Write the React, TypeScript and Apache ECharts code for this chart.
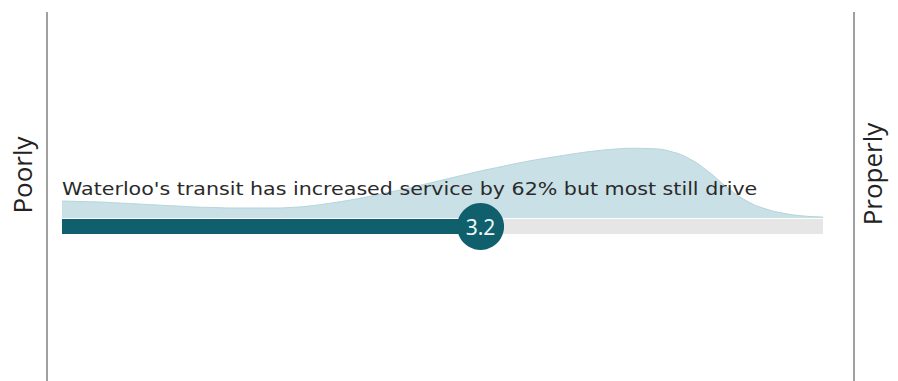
import { useEffect, useRef } from "react";
import * as echarts from "echarts";

// Rating scale (1 = poorly, 5 = properly)
const scaleMin = 1;
const scaleMax = 5;

// Distribution of responses along the rating scale
const densityScore = [
  1.0, 1.1, 1.2, 1.3, 1.4, 1.5, 1.6, 1.7, 1.8, 1.9,
  2.0, 2.1, 2.2, 2.3, 2.4, 2.5, 2.6, 2.7, 2.8, 2.9,
  3.0, 3.1, 3.2, 3.3, 3.4, 3.5, 3.6, 3.7, 3.8, 3.9,
  4.0, 4.1, 4.2, 4.3, 4.4, 4.5, 4.6, 4.7, 4.8, 4.9, 5.0,
];
const densityValue = [
  17, 16.5, 16, 15, 14, 13, 12, 11, 10.5, 10,
  10, 10, 10.5, 12, 14.5, 17.5, 21, 25, 29, 33.5,
  38, 42.5, 47, 51, 55, 58.5, 61.5, 64.5, 67, 68.8,
  69.7, 69.3, 66.5, 59, 46, 30, 17, 9, 4.5, 2, 1,
];

// Average rating
const averageScore = 3.2;
const trackCategory = ["score"];

const headline = "Waterloo's transit has increased service by 62% but most still drive";
const lowLabel = "Poorly";
const highLabel = "Properly";

const TEAL = "#0f5f6c";

export default function App() {
  const ref = useRef<HTMLDivElement>(null);

  useEffect(() => {
    if (!ref.current) return;
    const chart = echarts.init(ref.current, undefined, { renderer: "svg" });

    chart.setOption({
      animation: false,
      backgroundColor: "#ffffff",
      grid: [
        { left: 62, right: 75, top: 143, bottom: 163 },
        { left: 62, right: 75, top: 219, height: 15 },
      ],
      xAxis: [
        { gridIndex: 0, type: "value", min: scaleMin, max: scaleMax, show: false },
        { gridIndex: 1, type: "value", min: scaleMin, max: scaleMax, show: false },
      ],
      yAxis: [
        { gridIndex: 0, type: "value", min: 0, max: 75, show: false },
        { gridIndex: 1, type: "category", data: trackCategory, show: false },
      ],
      series: [
        {
          type: "line",
          xAxisIndex: 0,
          yAxisIndex: 0,
          data: densityScore.map((s, i) => [s, densityValue[i]]),
          smooth: 0.5,
          symbol: "none",
          lineStyle: { color: "#b3d3db", width: 1 },
          areaStyle: { color: "#c9e0e6", opacity: 1 },
          silent: true,
        },
        {
          type: "bar",
          xAxisIndex: 1,
          yAxisIndex: 1,
          data: [scaleMax],
          barWidth: 15,
          barGap: "-100%",
          clip: true,
          itemStyle: { color: "#e6e6e6" },
          silent: true,
        },
        {
          type: "bar",
          xAxisIndex: 1,
          yAxisIndex: 1,
          data: [averageScore],
          barWidth: 15,
          barGap: "-100%",
          clip: true,
          itemStyle: { color: TEAL },
          silent: true,
        },
        {
          type: "scatter",
          xAxisIndex: 1,
          yAxisIndex: 1,
          data: [[averageScore, trackCategory[0]]],
          symbol: "circle",
          symbolSize: 47,
          clip: false,
          z: 5,
          itemStyle: { color: TEAL, opacity: 1 },
          label: {
            show: true,
            position: "inside",
            formatter: () => averageScore.toFixed(1),
            color: "#eef5f6",
            fontSize: 21,
            fontFamily: "Noto Sans",
          },
          silent: true,
        },
      ],
      graphic: [
        {
          type: "line",
          shape: { x1: 47, y1: 12, x2: 47, y2: 381 },
          style: { stroke: "#808080", lineWidth: 1.5 },
        },
        {
          type: "line",
          shape: { x1: 854, y1: 12, x2: 854, y2: 381 },
          style: { stroke: "#808080", lineWidth: 1.5 },
        },
        {
          type: "text",
          x: 22,
          y: 175,
          rotation: Math.PI / 2,
          style: {
            text: lowLabel,
            fontSize: 26,
            fontFamily: "Open Sans",
            fill: "#222222",
            align: "center",
            verticalAlign: "middle",
          },
        },
        {
          type: "text",
          x: 872,
          y: 174,
          rotation: Math.PI / 2,
          style: {
            text: highLabel,
            fontSize: 26,
            fontFamily: "Open Sans",
            fill: "#222222",
            align: "center",
            verticalAlign: "middle",
          },
        },
        {
          type: "text",
          x: 62,
          y: 189,
          scaleX: 1.177,
          z: 10,
          style: {
            text: headline,
            fontSize: 17.5,
            fontFamily: "DejaVu Sans",
            fill: "#2a2a2a",
            align: "left",
            verticalAlign: "middle",
          },
        },
      ],
    });

    return () => chart.dispose();
  }, []);

  return (
    <div
      ref={ref}
      style={{ position: "absolute", left: 0, top: 0, width: 898, height: 381 }}
    />
  );
}
